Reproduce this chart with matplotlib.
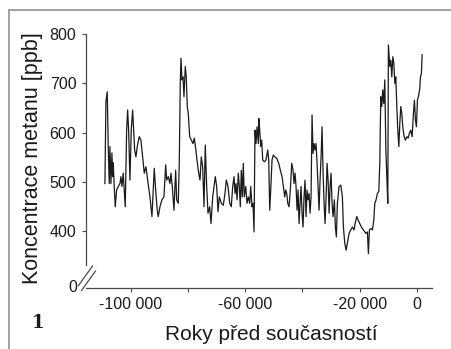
import matplotlib
matplotlib.use('Agg')
import matplotlib.pyplot as plt
from matplotlib.lines import Line2D

# ---- data (years before present, methane ppb) ----
years = [
    -108990, -108640, -108180, -107830, -107480, -107240, -106890, -106540, -106290, -106080,
    -105730, -105380, -104900, -104340, -103740, -103390, -103040, -102590, -102240, -101890,
    -101400, -101050, -100700, -100250, -99790, -99300, -98950, -98600, -98150, -97690,
    -96990, -96400, -95800, -95240, -94650, -94060, -93250, -92550, -92100, -91750,
    -91260, -90700, -90350, -89760, -89060, -88360, -87760, -87410, -86850, -86260,
    -85910, -85450, -84860, -84270, -83920, -83360, -83010, -82660, -82410, -82060,
    -81710, -81360, -80910, -80560, -80210, -79860, -79370, -78810, -78220, -77760,
    -77270, -76820, -76220, -75770, -75310, -74830, -74370, -73920, -73430, -72970,
    -72380, -71920, -71330, -70870, -70420, -69930, -69480, -69020, -68320, -67620,
    -67030, -66570, -65980, -65380, -64830, -64340, -63880, -63530, -63180, -62830,
    -62380, -62030, -61680, -61330, -60980, -60630, -60280, -59790, -59340, -58880,
    -58390, -58040, -57590, -57240, -56890, -56540, -56190, -55840, -55380, -55210,
    -54900, -54550, -54200, -53850, -53290, -52690, -52100, -51750, -51400, -51050,
    -50590, -50140, -49650, -48950, -48250, -47690, -47100, -46640, -46150, -45800,
    -45450, -45100, -44650, -44200, -43710, -43250, -42900, -42550, -42200, -41850,
    -41500, -41150, -40800, -40450, -40100, -39760, -39410, -39060, -38710, -38360,
    -38010, -37660, -37310, -36960, -36610, -36260, -35910, -35560, -35210, -34860,
    -34510, -34160, -33810, -33460, -33110, -32760, -32410, -32060, -31710, -31360,
    -31010, -30660, -30310, -29970, -29620, -29270, -28810, -28460, -28110, -27760,
    -27170, -26570, -26010, -25660, -25170, -24720, -24270, -23670, -23080, -22520,
    -21920, -21570, -20980, -20520, -19930, -19370, -18670, -17830, -17270, -16920,
    -16570, -16080, -15520, -15030, -14690, -14230, -13780, -13290, -12940, -12590,
    -12240, -11890, -11540, -11190, -10840, -10490, -10140, -9930, -9440, -9090,
    -8740, -8390, -8040, -7690, -7340, -6990, -6640, -6290, -5940, -5590,
    -5250, -4900, -4440, -3990, -3500, -3040, -2590, -2100, -1640, -1190,
    -840, -490, -140, 210, 560, 1050, 1260, 1610, 1850,
]
methane = [
    497, 663, 683, 572, 497, 572, 497, 559, 511, 539,
    491, 450, 484, 491, 497, 511, 491, 518, 484, 450,
    605, 646, 605, 504, 605, 646, 605, 565, 551, 572,
    592, 585, 551, 518, 531, 504, 470, 430, 484, 528,
    484, 443, 430, 450, 464, 470, 535, 504, 511, 497,
    518, 491, 443, 524, 464, 457, 538, 700, 751, 707,
    713, 673, 734, 713, 653, 639, 592, 585, 578, 589,
    568, 545, 518, 504, 551, 531, 450, 575, 491, 437,
    450, 416, 470, 491, 511, 491, 440, 470, 457, 453,
    477, 504, 491, 457, 450, 491, 511, 477, 497, 464,
    518, 491, 450, 524, 470, 538, 470, 491, 457, 470,
    457, 491, 450, 457, 399, 605, 578, 612, 578, 629,
    605, 572, 585, 545, 541, 545, 565, 545, 443, 484,
    545, 555, 551, 548, 538, 524, 511, 491, 470, 484,
    477, 457, 450, 484, 538, 524, 497, 518, 491, 443,
    484, 416, 457, 491, 437, 409, 470, 504, 430, 484,
    464, 477, 437, 470, 636, 558, 578, 565, 578, 538,
    491, 443, 504, 551, 612, 518, 457, 416, 470, 538,
    504, 437, 491, 518, 457, 430, 464, 409, 389, 457,
    491, 494, 470, 409, 376, 362, 376, 396, 403, 409,
    403, 416, 430, 423, 416, 409, 403, 396, 399, 355,
    403, 406, 403, 423, 457, 464, 477, 481, 538, 673,
    653, 687, 659, 707, 572, 511, 457, 778, 734, 747,
    713, 754, 741, 700, 713, 653, 605, 572, 619, 653,
    639, 612, 592, 585, 592, 589, 599, 605, 592, 639,
    666, 626, 612, 666, 673, 690, 713, 720, 758,
]

x_ticks = [-100000, -80000, -60000, -40000, -20000, 0]
x_tick_labels = ['-100 000', '', '-60 000', '', '-20 000', '0']
y_ticks = [400, 500, 600, 700, 800]
y_tick_labels = ['400', '500', '600', '700', '800']
y_bottom_label = '0'
x_label = 'Roky před současností'
y_label = 'Koncentrace metanu [ppb]'
panel_label = '1'

plt.rcParams['font.family'] = ['Liberation Sans', 'DejaVu Sans']

W, H = 451, 349
fig = plt.figure(figsize=(W / 100, H / 100), dpi=100)
fig.patch.set_facecolor('white')

L, R, T, B = 86, 431.7, 34, 287.7
ax = fig.add_axes([L / W, 1 - B / H, (R - L) / W, (B - T) / H])
ax.plot(years, methane, color='#1a1a1a', lw=0.9, solid_joinstyle='round')
ax.set_xlim(-115600, 5200)
ax.set_ylim(286, 800)

for s in ['top', 'right']:
    ax.spines[s].set_visible(False)
axis_col = '#4a4a4a'
ax.spines['left'].set_color(axis_col)
ax.spines['bottom'].set_color(axis_col)
ax.spines['left'].set_linewidth(0.9)
ax.spines['bottom'].set_linewidth(0.9)
ax.spines['left'].set_bounds(332, 800)

ax.set_xticks(x_ticks)
ax.set_xticklabels(x_tick_labels)
ax.set_yticks(y_ticks)
ax.set_yticklabels(y_tick_labels)
ax.tick_params(axis='both', direction='out', length=3, width=0.8,
               color=axis_col, labelsize=11.5, labelcolor='#1a1a1a')
ax.tick_params(axis='x', pad=3.5)
ax.tick_params(axis='y', pad=4)

# "0" at the bottom of the broken y axis
ax.text(-9 / (R - L), 0.0, y_bottom_label, transform=ax.transAxes,
        ha='right', va='center', fontsize=11.5, color='#1a1a1a')

# axis break marks (pixel coordinates -> figure fraction)
for (x0, y0, x1, y1) in [(78.5, 285.5, 92.5, 266.0), (81.5, 290.5, 95.5, 271.0)]:
    fig.add_artist(Line2D([x0 / W, x1 / W], [1 - y0 / H, 1 - y1 / H],
                          transform=fig.transFigure, color=axis_col, lw=0.9))

# labels
fig.text(271 / W, 1 - 340 / H, x_label, ha='center', va='baseline',
         fontsize=15, color='#1a1a1a')
fig.text(38.3 / W, 1 - 158.5 / H, y_label, rotation=90, rotation_mode='anchor',
         ha='center', va='baseline', fontsize=15.5, color='#1a1a1a')
fig.text(38.5 / W, 1 - 327.5 / H, panel_label, ha='center', va='baseline',
         fontsize=13, fontweight='bold', family='DejaVu Serif', color='#1a1a1a')

# outer frame (gray lines top and left)
frame_col = '#9a9a9a'
fig.add_artist(Line2D([9 / W, 9 / W], [1 - 10 / H, 0], transform=fig.transFigure,
                      color=frame_col, lw=1.3))
fig.add_artist(Line2D([9 / W, 1], [1 - 10 / H, 1 - 10 / H], transform=fig.transFigure,
                      color=frame_col, lw=1.3))

fig.savefig('out.png', dpi=100)
